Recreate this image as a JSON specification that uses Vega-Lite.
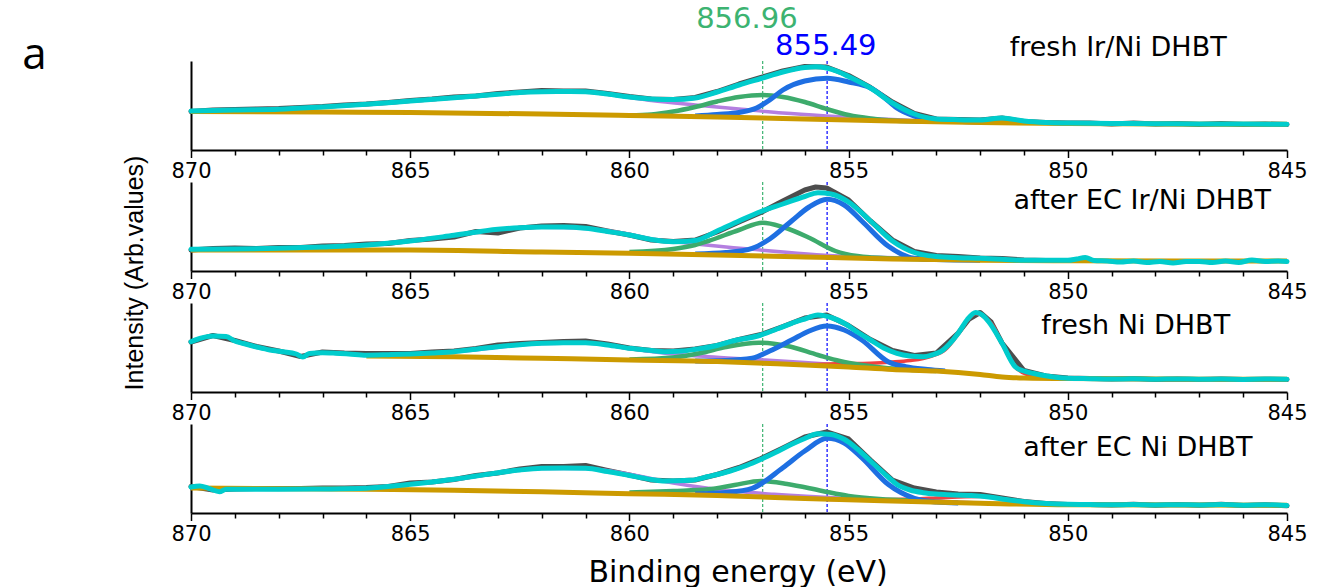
{
"$schema": "https://vega.github.io/schema/vega-lite/v6.json",
"background": "white",
"padding": {"left": 22, "top": 4, "right": 5, "bottom": 5},
"data": {"values": [
{"p":1,"s":"r","x":870,"y":38.5},{"p":1,"s":"r","x":869.5,"y":40},{"p":1,"s":"r","x":869,"y":40.5},{"p":1,"s":"r","x":868.5,"y":41},{"p":1,"s":"r","x":868,"y":41.5},{"p":1,"s":"r","x":867.5,"y":42.5},{"p":1,"s":"r","x":867,"y":43.5},{"p":1,"s":"r","x":866.5,"y":45},{"p":1,"s":"r","x":866,"y":46},{"p":1,"s":"r","x":865.5,"y":47.5},{"p":1,"s":"r","x":865,"y":49.5},{"p":1,"s":"r","x":864.5,"y":51},{"p":1,"s":"r","x":864,"y":53},{"p":1,"s":"r","x":863.5,"y":54},{"p":1,"s":"r","x":863,"y":56.5},{"p":1,"s":"r","x":862.5,"y":58},{"p":1,"s":"r","x":862,"y":59.5},{"p":1,"s":"r","x":861.5,"y":59},{"p":1,"s":"r","x":861,"y":59},{"p":1,"s":"r","x":860.5,"y":56.5},{"p":1,"s":"r","x":860,"y":53.5},{"p":1,"s":"r","x":859.5,"y":51},{"p":1,"s":"r","x":859,"y":50.5},{"p":1,"s":"r","x":858.5,"y":52.5},{"p":1,"s":"r","x":858,"y":58.5},{"p":1,"s":"r","x":857.5,"y":66},{"p":1,"s":"r","x":857,"y":72.5},{"p":1,"s":"r","x":856.5,"y":79},{"p":1,"s":"r","x":856,"y":83.5},{"p":1,"s":"r","x":855.5,"y":83},{"p":1,"s":"r","x":855,"y":74.5},{"p":1,"s":"r","x":854.5,"y":62.5},{"p":1,"s":"r","x":854,"y":48},{"p":1,"s":"r","x":853.5,"y":36.5},{"p":1,"s":"r","x":853,"y":31},{"p":1,"s":"r","x":852.5,"y":30.5},{"p":1,"s":"r","x":852,"y":30},{"p":1,"s":"r","x":851.5,"y":32},{"p":1,"s":"r","x":851,"y":28.5},{"p":1,"s":"r","x":850.5,"y":27.5},{"p":1,"s":"r","x":850,"y":27},{"p":1,"s":"r","x":849.5,"y":27},{"p":1,"s":"r","x":849,"y":26},{"p":1,"s":"r","x":848.5,"y":27},{"p":1,"s":"r","x":848,"y":26},{"p":1,"s":"r","x":847.5,"y":26.5},{"p":1,"s":"r","x":847,"y":25.5},{"p":1,"s":"r","x":846.5,"y":26.5},{"p":1,"s":"r","x":846,"y":25.5},{"p":1,"s":"r","x":845.5,"y":26},{"p":1,"s":"r","x":845,"y":25.5},
{"p":1,"s":"c","x":870,"y":39},{"p":1,"s":"c","x":869,"y":40},{"p":1,"s":"c","x":868,"y":40.7},{"p":1,"s":"c","x":867,"y":43},{"p":1,"s":"c","x":866,"y":45.7},{"p":1,"s":"c","x":865,"y":49},{"p":1,"s":"c","x":864,"y":52.3},{"p":1,"s":"c","x":863,"y":55.7},{"p":1,"s":"c","x":862.5,"y":57.5},{"p":1,"s":"c","x":862,"y":58.3},{"p":1,"s":"c","x":861.5,"y":58.5},{"p":1,"s":"c","x":861,"y":58.3},{"p":1,"s":"c","x":860.5,"y":56},{"p":1,"s":"c","x":860,"y":53},{"p":1,"s":"c","x":859.5,"y":51},{"p":1,"s":"c","x":859,"y":50.5},{"p":1,"s":"c","x":858.5,"y":52},{"p":1,"s":"c","x":858,"y":58},{"p":1,"s":"c","x":857.5,"y":65},{"p":1,"s":"c","x":857,"y":71.5},{"p":1,"s":"c","x":856.5,"y":78},{"p":1,"s":"c","x":856,"y":82.5},{"p":1,"s":"c","x":855.75,"y":83.3},{"p":1,"s":"c","x":855.5,"y":82},{"p":1,"s":"c","x":855.25,"y":78.5},{"p":1,"s":"c","x":855,"y":73.5},{"p":1,"s":"c","x":854.5,"y":62},{"p":1,"s":"c","x":854,"y":47},{"p":1,"s":"c","x":853.5,"y":36},{"p":1,"s":"c","x":853,"y":31},{"p":1,"s":"c","x":852.5,"y":30.3},{"p":1,"s":"c","x":852,"y":30},{"p":1,"s":"c","x":851.5,"y":32},{"p":1,"s":"c","x":851,"y":29},{"p":1,"s":"c","x":850.5,"y":27.5},{"p":1,"s":"c","x":850,"y":27},{"p":1,"s":"c","x":849,"y":26.5},{"p":1,"s":"c","x":848,"y":26.3},{"p":1,"s":"c","x":847,"y":26},{"p":1,"s":"c","x":846,"y":26},{"p":1,"s":"c","x":845,"y":25.7},
{"p":1,"s":"b","x":870,"y":38.5},{"p":1,"s":"b","x":867,"y":38},{"p":1,"s":"b","x":865,"y":37.5},{"p":1,"s":"b","x":862,"y":36},{"p":1,"s":"b","x":860,"y":34.5},{"p":1,"s":"b","x":858,"y":33},{"p":1,"s":"b","x":856,"y":31},{"p":1,"s":"b","x":854,"y":29},{"p":1,"s":"b","x":852,"y":27.5},{"p":1,"s":"b","x":850,"y":26.5},{"p":1,"s":"b","x":845,"y":25.7},
{"p":1,"s":"u","x":866,"y":45.5},{"p":1,"s":"u","x":864,"y":52},{"p":1,"s":"u","x":862,"y":58},{"p":1,"s":"u","x":861,"y":58},{"p":1,"s":"u","x":860,"y":52.5},{"p":1,"s":"u","x":859.5,"y":49.5},{"p":1,"s":"u","x":858.5,"y":45},{"p":1,"s":"u","x":857.5,"y":41},{"p":1,"s":"u","x":856.5,"y":37},{"p":1,"s":"u","x":855.5,"y":34},{"p":1,"s":"u","x":854.5,"y":31.5},{"p":1,"s":"u","x":853.5,"y":29.5},{"p":1,"s":"u","x":852,"y":28},{"p":1,"s":"u","x":850,"y":26.7},
{"p":1,"s":"g","x":860,"y":34.5},{"p":1,"s":"g","x":859.5,"y":35.5},{"p":1,"s":"g","x":859,"y":38.5},{"p":1,"s":"g","x":858.5,"y":43},{"p":1,"s":"g","x":858,"y":48.5},{"p":1,"s":"g","x":857.5,"y":53},{"p":1,"s":"g","x":856.96,"y":55},{"p":1,"s":"g","x":856.5,"y":53},{"p":1,"s":"g","x":856,"y":48},{"p":1,"s":"g","x":855.5,"y":41},{"p":1,"s":"g","x":855,"y":35},{"p":1,"s":"g","x":854.5,"y":31.5},{"p":1,"s":"g","x":854,"y":29.5},{"p":1,"s":"g","x":853,"y":28.3},
{"p":1,"s":"l","x":858.5,"y":34},{"p":1,"s":"l","x":858,"y":35.5},{"p":1,"s":"l","x":857.5,"y":37.5},{"p":1,"s":"l","x":857.1,"y":42},{"p":1,"s":"l","x":856.8,"y":50},{"p":1,"s":"l","x":856.5,"y":60},{"p":1,"s":"l","x":856,"y":69},{"p":1,"s":"l","x":855.49,"y":71.7},{"p":1,"s":"l","x":855,"y":68},{"p":1,"s":"l","x":854.5,"y":62},{"p":1,"s":"l","x":854.2,"y":53},{"p":1,"s":"l","x":853.9,"y":42},{"p":1,"s":"l","x":853.5,"y":34},{"p":1,"s":"l","x":853,"y":30.5},{"p":1,"s":"l","x":852.5,"y":28.8},{"p":1,"s":"l","x":852,"y":28},
{"p":2,"s":"r","x":870,"y":21},{"p":2,"s":"r","x":869.5,"y":22.5},{"p":2,"s":"r","x":869,"y":23},{"p":2,"s":"r","x":868.5,"y":22.5},{"p":2,"s":"r","x":868,"y":23.5},{"p":2,"s":"r","x":867.5,"y":23.5},{"p":2,"s":"r","x":867,"y":25},{"p":2,"s":"r","x":866.5,"y":25.5},{"p":2,"s":"r","x":866,"y":27},{"p":2,"s":"r","x":865.5,"y":27.5},{"p":2,"s":"r","x":865,"y":30.5},{"p":2,"s":"r","x":864.5,"y":32},{"p":2,"s":"r","x":864,"y":34},{"p":2,"s":"r","x":863.5,"y":39.5},{"p":2,"s":"r","x":863,"y":38},{"p":2,"s":"r","x":862.5,"y":43},{"p":2,"s":"r","x":862,"y":45},{"p":2,"s":"r","x":861.5,"y":45.5},{"p":2,"s":"r","x":861,"y":44.5},{"p":2,"s":"r","x":860.5,"y":40},{"p":2,"s":"r","x":860,"y":36},{"p":2,"s":"r","x":859.5,"y":31},{"p":2,"s":"r","x":859,"y":29.5},{"p":2,"s":"r","x":858.5,"y":31},{"p":2,"s":"r","x":858,"y":39},{"p":2,"s":"r","x":857.5,"y":49},{"p":2,"s":"r","x":857,"y":58.5},{"p":2,"s":"r","x":856.5,"y":70},{"p":2,"s":"r","x":856,"y":81},{"p":2,"s":"r","x":855.75,"y":84},{"p":2,"s":"r","x":855.5,"y":83},{"p":2,"s":"r","x":855,"y":71},{"p":2,"s":"r","x":854.5,"y":50},{"p":2,"s":"r","x":854,"y":31},{"p":2,"s":"r","x":853.5,"y":19.5},{"p":2,"s":"r","x":853,"y":15.5},{"p":2,"s":"r","x":852.5,"y":14.5},{"p":2,"s":"r","x":852,"y":13},{"p":2,"s":"r","x":851.5,"y":12.5},{"p":2,"s":"r","x":851,"y":11},{"p":2,"s":"r","x":850.5,"y":10.5},{"p":2,"s":"r","x":850,"y":10.5},
{"p":2,"s":"c","x":870,"y":21.7},{"p":2,"s":"c","x":869,"y":22},{"p":2,"s":"c","x":868,"y":22.7},{"p":2,"s":"c","x":867,"y":24},{"p":2,"s":"c","x":866,"y":26},{"p":2,"s":"c","x":865,"y":30},{"p":2,"s":"c","x":864,"y":35.7},{"p":2,"s":"c","x":863,"y":41.7},{"p":2,"s":"c","x":862.5,"y":43.3},{"p":2,"s":"c","x":862,"y":44},{"p":2,"s":"c","x":861.5,"y":44},{"p":2,"s":"c","x":861,"y":42.7},{"p":2,"s":"c","x":860.5,"y":39.5},{"p":2,"s":"c","x":860,"y":36},{"p":2,"s":"c","x":859.5,"y":31.5},{"p":2,"s":"c","x":859,"y":29.3},{"p":2,"s":"c","x":858.5,"y":30.5},{"p":2,"s":"c","x":858,"y":40},{"p":2,"s":"c","x":857.5,"y":50},{"p":2,"s":"c","x":857,"y":59.5},{"p":2,"s":"c","x":856.5,"y":67},{"p":2,"s":"c","x":856,"y":74.5},{"p":2,"s":"c","x":855.7,"y":78.3},{"p":2,"s":"c","x":855.4,"y":77},{"p":2,"s":"c","x":855,"y":69},{"p":2,"s":"c","x":854.5,"y":50},{"p":2,"s":"c","x":854,"y":30},{"p":2,"s":"c","x":853.5,"y":18.5},{"p":2,"s":"c","x":853,"y":14.5},{"p":2,"s":"c","x":852.5,"y":13.3},{"p":2,"s":"c","x":852,"y":12.7},{"p":2,"s":"c","x":851.5,"y":11.7},{"p":2,"s":"c","x":851,"y":10.7},{"p":2,"s":"c","x":850.5,"y":10.7},{"p":2,"s":"c","x":850,"y":10.7},{"p":2,"s":"c","x":849.8,"y":12},{"p":2,"s":"c","x":849.6,"y":13.5},{"p":2,"s":"c","x":849.4,"y":10.5},{"p":2,"s":"c","x":849.1,"y":10},{"p":2,"s":"c","x":848.8,"y":9},{"p":2,"s":"c","x":848.5,"y":10},{"p":2,"s":"c","x":848.2,"y":8.5},{"p":2,"s":"c","x":847.9,"y":9.5},{"p":2,"s":"c","x":847.6,"y":8},{"p":2,"s":"c","x":847.3,"y":9.5},{"p":2,"s":"c","x":847,"y":9.5},{"p":2,"s":"c","x":846.7,"y":8.5},{"p":2,"s":"c","x":846.4,"y":10},{"p":2,"s":"c","x":846.1,"y":8.5},{"p":2,"s":"c","x":845.8,"y":11},{"p":2,"s":"c","x":845.5,"y":9.5},{"p":2,"s":"c","x":845.2,"y":10},{"p":2,"s":"c","x":845,"y":9.5},
{"p":2,"s":"b","x":870,"y":21},{"p":2,"s":"b","x":865,"y":21},{"p":2,"s":"b","x":862,"y":19},{"p":2,"s":"b","x":860,"y":17.7},{"p":2,"s":"b","x":858,"y":16},{"p":2,"s":"b","x":856,"y":14},{"p":2,"s":"b","x":854,"y":12},{"p":2,"s":"b","x":852,"y":10.8},{"p":2,"s":"b","x":850,"y":10.2},{"p":2,"s":"b","x":845,"y":10},
{"p":2,"s":"u","x":866,"y":26},{"p":2,"s":"u","x":864,"y":35.5},{"p":2,"s":"u","x":863,"y":41.5},{"p":2,"s":"u","x":862,"y":43.8},{"p":2,"s":"u","x":861,"y":42.5},{"p":2,"s":"u","x":860,"y":36.7},{"p":2,"s":"u","x":859.5,"y":32},{"p":2,"s":"u","x":858.7,"y":28},{"p":2,"s":"u","x":857.2,"y":21.7},{"p":2,"s":"u","x":855.2,"y":15},{"p":2,"s":"u","x":853.1,"y":12.7},{"p":2,"s":"u","x":851,"y":11},{"p":2,"s":"u","x":849,"y":10.2},
{"p":2,"s":"g","x":860,"y":19},{"p":2,"s":"g","x":859,"y":22},{"p":2,"s":"g","x":858.5,"y":26},{"p":2,"s":"g","x":858.2,"y":30},{"p":2,"s":"g","x":857.5,"y":41},{"p":2,"s":"g","x":856.96,"y":48.3},{"p":2,"s":"g","x":856.5,"y":44},{"p":2,"s":"g","x":855.9,"y":33.3},{"p":2,"s":"g","x":855.3,"y":20},{"p":2,"s":"g","x":854.8,"y":15},{"p":2,"s":"g","x":854,"y":12.5},{"p":2,"s":"g","x":853,"y":11.5},
{"p":2,"s":"l","x":858.5,"y":17},{"p":2,"s":"l","x":857.8,"y":18.5},{"p":2,"s":"l","x":857.2,"y":22.7},{"p":2,"s":"l","x":856.8,"y":32},{"p":2,"s":"l","x":856.3,"y":50},{"p":2,"s":"l","x":855.9,"y":64},{"p":2,"s":"l","x":855.49,"y":71.7},{"p":2,"s":"l","x":855.1,"y":66},{"p":2,"s":"l","x":854.7,"y":50},{"p":2,"s":"l","x":854.1,"y":25},{"p":2,"s":"l","x":853.5,"y":12.7},{"p":2,"s":"l","x":853,"y":11.5},{"p":2,"s":"l","x":852,"y":10.8},
{"p":3,"s":"r","x":870,"y":50},{"p":3,"s":"r","x":869.5,"y":56.5},{"p":3,"s":"r","x":869,"y":51.5},{"p":3,"s":"r","x":868.5,"y":45.5},{"p":3,"s":"r","x":868,"y":41},{"p":3,"s":"r","x":867.5,"y":35.5},{"p":3,"s":"r","x":867,"y":40},{"p":3,"s":"r","x":866.5,"y":39},{"p":3,"s":"r","x":866,"y":38.5},{"p":3,"s":"r","x":865.5,"y":38.5},{"p":3,"s":"r","x":865,"y":38.5},{"p":3,"s":"r","x":864.5,"y":40},{"p":3,"s":"r","x":864,"y":41},{"p":3,"s":"r","x":863.5,"y":43.5},{"p":3,"s":"r","x":863,"y":47},{"p":3,"s":"r","x":862.5,"y":48.5},{"p":3,"s":"r","x":862,"y":49.5},{"p":3,"s":"r","x":861.5,"y":50.5},{"p":3,"s":"r","x":861,"y":51},{"p":3,"s":"r","x":860.5,"y":48},{"p":3,"s":"r","x":860,"y":44},{"p":3,"s":"r","x":859.5,"y":41.5},{"p":3,"s":"r","x":859,"y":41},{"p":3,"s":"r","x":858.5,"y":43},{"p":3,"s":"r","x":858,"y":46.5},{"p":3,"s":"r","x":857.5,"y":52.5},{"p":3,"s":"r","x":857,"y":57.5},{"p":3,"s":"r","x":856.5,"y":65.5},{"p":3,"s":"r","x":856,"y":74},{"p":3,"s":"r","x":855.5,"y":77},{"p":3,"s":"r","x":855,"y":66.5},{"p":3,"s":"r","x":854.5,"y":52.5},{"p":3,"s":"r","x":854,"y":41.5},{"p":3,"s":"r","x":853.5,"y":36.5},{"p":3,"s":"r","x":853,"y":39},{"p":3,"s":"r","x":852.5,"y":59},{"p":3,"s":"r","x":852.25,"y":73},{"p":3,"s":"r","x":852,"y":79.5},{"p":3,"s":"r","x":851.75,"y":70},{"p":3,"s":"r","x":851.5,"y":49},{"p":3,"s":"r","x":851,"y":21.5},{"p":3,"s":"r","x":850.5,"y":16},{"p":3,"s":"r","x":850,"y":14},{"p":3,"s":"r","x":849.5,"y":13.5},{"p":3,"s":"r","x":849,"y":13},{"p":3,"s":"r","x":848.5,"y":13.5},{"p":3,"s":"r","x":848,"y":12.5},{"p":3,"s":"r","x":847.5,"y":13},{"p":3,"s":"r","x":847,"y":12.5},{"p":3,"s":"r","x":846.5,"y":13},{"p":3,"s":"r","x":846,"y":12.5},{"p":3,"s":"r","x":845.5,"y":12.8},{"p":3,"s":"r","x":845,"y":12.5},
{"p":3,"s":"c","x":870,"y":50.3},{"p":3,"s":"c","x":869.8,"y":53.5},{"p":3,"s":"c","x":869.5,"y":56},{"p":3,"s":"c","x":869.2,"y":55.5},{"p":3,"s":"c","x":869,"y":51},{"p":3,"s":"c","x":868.8,"y":48.5},{"p":3,"s":"c","x":868.5,"y":45},{"p":3,"s":"c","x":868.2,"y":42},{"p":3,"s":"c","x":867.9,"y":40.3},{"p":3,"s":"c","x":867.6,"y":38},{"p":3,"s":"c","x":867.45,"y":35},{"p":3,"s":"c","x":867.3,"y":38.5},{"p":3,"s":"c","x":867,"y":39.3},{"p":3,"s":"c","x":866.7,"y":38.8},{"p":3,"s":"c","x":866.4,"y":38},{"p":3,"s":"c","x":866,"y":36.8},{"p":3,"s":"c","x":865.5,"y":37.3},{"p":3,"s":"c","x":865,"y":38},{"p":3,"s":"c","x":864.5,"y":39},{"p":3,"s":"c","x":864,"y":40.3},{"p":3,"s":"c","x":863.5,"y":42.8},{"p":3,"s":"c","x":863,"y":45.3},{"p":3,"s":"c","x":862.5,"y":47.3},{"p":3,"s":"c","x":862,"y":48.7},{"p":3,"s":"c","x":861.5,"y":49.3},{"p":3,"s":"c","x":861,"y":49.3},{"p":3,"s":"c","x":860.5,"y":47},{"p":3,"s":"c","x":860,"y":43.7},{"p":3,"s":"c","x":859.5,"y":41.5},{"p":3,"s":"c","x":859.2,"y":40.3},{"p":3,"s":"c","x":858.8,"y":41},{"p":3,"s":"c","x":858.5,"y":42.7},{"p":3,"s":"c","x":858,"y":46.5},{"p":3,"s":"c","x":857.7,"y":50.3},{"p":3,"s":"c","x":857,"y":57},{"p":3,"s":"c","x":856.6,"y":63.5},{"p":3,"s":"c","x":856.3,"y":68.7},{"p":3,"s":"c","x":856,"y":73},{"p":3,"s":"c","x":855.7,"y":77},{"p":3,"s":"c","x":855.4,"y":74.5},{"p":3,"s":"c","x":855.1,"y":68.7},{"p":3,"s":"c","x":854.8,"y":60},{"p":3,"s":"c","x":854.5,"y":52},{"p":3,"s":"c","x":854.2,"y":44},{"p":3,"s":"c","x":853.9,"y":38.7},{"p":3,"s":"c","x":853.6,"y":36},{"p":3,"s":"c","x":853.3,"y":35.3},{"p":3,"s":"c","x":853.1,"y":37},{"p":3,"s":"c","x":852.9,"y":40.3},{"p":3,"s":"c","x":852.7,"y":48},{"p":3,"s":"c","x":852.5,"y":58.7},{"p":3,"s":"c","x":852.3,"y":72},{"p":3,"s":"c","x":852.1,"y":79.5},{"p":3,"s":"c","x":851.95,"y":77},{"p":3,"s":"c","x":851.8,"y":70},{"p":3,"s":"c","x":851.5,"y":48.7},{"p":3,"s":"c","x":851.2,"y":25.3},{"p":3,"s":"c","x":851,"y":21},{"p":3,"s":"c","x":850.8,"y":18.7},{"p":3,"s":"c","x":850.4,"y":15.5},{"p":3,"s":"c","x":850,"y":13.7},{"p":3,"s":"c","x":849.5,"y":13.3},{"p":3,"s":"c","x":849,"y":13},{"p":3,"s":"c","x":848.5,"y":13.2},{"p":3,"s":"c","x":848,"y":12.8},{"p":3,"s":"c","x":847.5,"y":13},{"p":3,"s":"c","x":847,"y":12.8},{"p":3,"s":"c","x":846.5,"y":12.9},{"p":3,"s":"c","x":846,"y":12.6},{"p":3,"s":"c","x":845.5,"y":12.9},{"p":3,"s":"c","x":845,"y":12.7},
{"p":3,"s":"b","x":866,"y":36},{"p":3,"s":"b","x":864,"y":35.3},{"p":3,"s":"b","x":862,"y":33.7},{"p":3,"s":"b","x":860,"y":32},{"p":3,"s":"b","x":858,"y":30.5},{"p":3,"s":"b","x":856.5,"y":28},{"p":3,"s":"b","x":855,"y":25},{"p":3,"s":"b","x":854,"y":22.5},{"p":3,"s":"b","x":853,"y":21},{"p":3,"s":"b","x":852.5,"y":19.5},{"p":3,"s":"b","x":852,"y":17.5},{"p":3,"s":"b","x":851.5,"y":15},{"p":3,"s":"b","x":851,"y":14},{"p":3,"s":"b","x":850,"y":13.4},{"p":3,"s":"b","x":845,"y":12.7},
{"p":3,"s":"u","x":866,"y":36.3},{"p":3,"s":"u","x":864,"y":40},{"p":3,"s":"u","x":862,"y":48.5},{"p":3,"s":"u","x":861,"y":49},{"p":3,"s":"u","x":860,"y":43.5},{"p":3,"s":"u","x":859,"y":38},{"p":3,"s":"u","x":858.2,"y":35.3},{"p":3,"s":"u","x":857.2,"y":32.7},{"p":3,"s":"u","x":856,"y":29.5},{"p":3,"s":"u","x":855,"y":26.5},{"p":3,"s":"u","x":854,"y":23},
{"p":3,"s":"e","x":856,"y":27},{"p":3,"s":"e","x":855.3,"y":28.2},{"p":3,"s":"e","x":854.5,"y":28.8},{"p":3,"s":"e","x":854,"y":30},{"p":3,"s":"e","x":853.6,"y":31.5},{"p":3,"s":"e","x":853.3,"y":33.5},{"p":3,"s":"e","x":853.1,"y":36},{"p":3,"s":"e","x":852.8,"y":42},{"p":3,"s":"e","x":852.5,"y":58},{"p":3,"s":"e","x":852.3,"y":71},{"p":3,"s":"e","x":852.1,"y":78.5},{"p":3,"s":"e","x":851.9,"y":75},{"p":3,"s":"e","x":851.7,"y":66},{"p":3,"s":"e","x":851.5,"y":48},{"p":3,"s":"e","x":851.2,"y":25},{"p":3,"s":"e","x":850.9,"y":17},{"p":3,"s":"e","x":850.5,"y":14.5},
{"p":3,"s":"g","x":860,"y":32.5},{"p":3,"s":"g","x":859,"y":34.5},{"p":3,"s":"g","x":858.4,"y":38.7},{"p":3,"s":"g","x":857.8,"y":45},{"p":3,"s":"g","x":857.05,"y":49.3},{"p":3,"s":"g","x":856.4,"y":46},{"p":3,"s":"g","x":855.7,"y":37},{"p":3,"s":"g","x":855.2,"y":31},{"p":3,"s":"g","x":854.7,"y":27},{"p":3,"s":"g","x":854.1,"y":23.7},{"p":3,"s":"g","x":853.5,"y":22},{"p":3,"s":"g","x":853,"y":21},
{"p":3,"s":"l","x":858.5,"y":31},{"p":3,"s":"l","x":857.8,"y":31.5},{"p":3,"s":"l","x":857.2,"y":33.7},{"p":3,"s":"l","x":856.8,"y":41},{"p":3,"s":"l","x":856.3,"y":52},{"p":3,"s":"l","x":855.9,"y":61},{"p":3,"s":"l","x":855.5,"y":66},{"p":3,"s":"l","x":855.1,"y":62},{"p":3,"s":"l","x":854.7,"y":52},{"p":3,"s":"l","x":854.1,"y":30.3},{"p":3,"s":"l","x":853.7,"y":25.3},{"p":3,"s":"l","x":853.2,"y":22.5},{"p":3,"s":"l","x":852.8,"y":21},
{"p":4,"s":"r","x":870,"y":26.5},{"p":4,"s":"r","x":869.5,"y":23},{"p":4,"s":"r","x":869,"y":24},{"p":4,"s":"r","x":868.5,"y":24.5},{"p":4,"s":"r","x":868,"y":24.5},{"p":4,"s":"r","x":867.5,"y":24.5},{"p":4,"s":"r","x":867,"y":25},{"p":4,"s":"r","x":866.5,"y":25},{"p":4,"s":"r","x":866,"y":25.5},{"p":4,"s":"r","x":865.5,"y":26.5},{"p":4,"s":"r","x":865,"y":30},{"p":4,"s":"r","x":864.5,"y":31},{"p":4,"s":"r","x":864,"y":33.5},{"p":4,"s":"r","x":863.5,"y":37.5},{"p":4,"s":"r","x":863,"y":40},{"p":4,"s":"r","x":862.5,"y":44},{"p":4,"s":"r","x":862,"y":46.5},{"p":4,"s":"r","x":861.5,"y":46.5},{"p":4,"s":"r","x":861,"y":47.5},{"p":4,"s":"r","x":860.5,"y":42.5},{"p":4,"s":"r","x":860,"y":38},{"p":4,"s":"r","x":859.5,"y":33},{"p":4,"s":"r","x":859,"y":32},{"p":4,"s":"r","x":858.5,"y":33},{"p":4,"s":"r","x":858,"y":38.5},{"p":4,"s":"r","x":857.5,"y":45.5},{"p":4,"s":"r","x":857,"y":54.5},{"p":4,"s":"r","x":856.5,"y":65},{"p":4,"s":"r","x":856,"y":76},{"p":4,"s":"r","x":855.5,"y":81},{"p":4,"s":"r","x":855,"y":74},{"p":4,"s":"r","x":854.5,"y":53},{"p":4,"s":"r","x":854,"y":33},{"p":4,"s":"r","x":853.5,"y":25},{"p":4,"s":"r","x":853,"y":21},{"p":4,"s":"r","x":852.5,"y":19},{"p":4,"s":"r","x":852,"y":18.5},{"p":4,"s":"r","x":851.5,"y":15},{"p":4,"s":"r","x":851,"y":11.5},{"p":4,"s":"r","x":850.5,"y":9.5},{"p":4,"s":"r","x":850,"y":8.5},{"p":4,"s":"r","x":849.5,"y":8.5},{"p":4,"s":"r","x":849,"y":8},{"p":4,"s":"r","x":848.5,"y":8.8},{"p":4,"s":"r","x":848,"y":7.8},{"p":4,"s":"r","x":847.5,"y":8.5},{"p":4,"s":"r","x":847,"y":7.8},{"p":4,"s":"r","x":846.5,"y":8.8},{"p":4,"s":"r","x":846,"y":7.5},{"p":4,"s":"r","x":845.5,"y":8.3},{"p":4,"s":"r","x":845,"y":7.2},
{"p":4,"s":"c","x":870,"y":26},{"p":4,"s":"c","x":869.8,"y":27},{"p":4,"s":"c","x":869.6,"y":24.7},{"p":4,"s":"c","x":869.35,"y":21.3},{"p":4,"s":"c","x":869.2,"y":23.7},{"p":4,"s":"c","x":869,"y":23.8},{"p":4,"s":"c","x":868,"y":23.7},{"p":4,"s":"c","x":867,"y":24},{"p":4,"s":"c","x":866,"y":24.7},{"p":4,"s":"c","x":865.5,"y":26.5},{"p":4,"s":"c","x":865,"y":28.7},{"p":4,"s":"c","x":864.5,"y":31},{"p":4,"s":"c","x":864,"y":33.7},{"p":4,"s":"c","x":863.5,"y":37},{"p":4,"s":"c","x":863,"y":40.3},{"p":4,"s":"c","x":862.5,"y":43},{"p":4,"s":"c","x":862,"y":44.7},{"p":4,"s":"c","x":861.5,"y":45},{"p":4,"s":"c","x":861,"y":44.7},{"p":4,"s":"c","x":860.5,"y":41.5},{"p":4,"s":"c","x":860,"y":37.5},{"p":4,"s":"c","x":859.5,"y":33.5},{"p":4,"s":"c","x":859.2,"y":32},{"p":4,"s":"c","x":858.6,"y":32.7},{"p":4,"s":"c","x":858.2,"y":36.5},{"p":4,"s":"c","x":857.7,"y":42},{"p":4,"s":"c","x":857.3,"y":48},{"p":4,"s":"c","x":857,"y":53.7},{"p":4,"s":"c","x":856.6,"y":62},{"p":4,"s":"c","x":856.3,"y":68.7},{"p":4,"s":"c","x":856,"y":74.5},{"p":4,"s":"c","x":855.7,"y":79.3},{"p":4,"s":"c","x":855.4,"y":78.5},{"p":4,"s":"c","x":855.1,"y":73.7},{"p":4,"s":"c","x":854.8,"y":64},{"p":4,"s":"c","x":854.5,"y":52},{"p":4,"s":"c","x":854.2,"y":40},{"p":4,"s":"c","x":853.9,"y":28.7},{"p":4,"s":"c","x":853.6,"y":23},{"p":4,"s":"c","x":853.3,"y":20.3},{"p":4,"s":"c","x":852.9,"y":18.8},{"p":4,"s":"c","x":852.6,"y":18},{"p":4,"s":"c","x":852.2,"y":17.5},{"p":4,"s":"c","x":851.8,"y":16},{"p":4,"s":"c","x":851.4,"y":13.5},{"p":4,"s":"c","x":851,"y":11.3},{"p":4,"s":"c","x":850.5,"y":9.5},{"p":4,"s":"c","x":850,"y":8.7},{"p":4,"s":"c","x":849.5,"y":8.5},{"p":4,"s":"c","x":849,"y":8.2},{"p":4,"s":"c","x":848.5,"y":8.5},{"p":4,"s":"c","x":848,"y":8},{"p":4,"s":"c","x":847.5,"y":8.3},{"p":4,"s":"c","x":847,"y":8},{"p":4,"s":"c","x":846.5,"y":8.5},{"p":4,"s":"c","x":846,"y":7.8},{"p":4,"s":"c","x":845.5,"y":8.2},{"p":4,"s":"c","x":845,"y":7.5},
{"p":4,"s":"b","x":870,"y":25},{"p":4,"s":"b","x":866,"y":23.7},{"p":4,"s":"b","x":864,"y":22.7},{"p":4,"s":"b","x":862,"y":21.3},{"p":4,"s":"b","x":860,"y":19.3},{"p":4,"s":"b","x":858,"y":17.5},{"p":4,"s":"b","x":856,"y":14.5},{"p":4,"s":"b","x":854,"y":12},{"p":4,"s":"b","x":852,"y":9.8},{"p":4,"s":"b","x":850,"y":8.2},{"p":4,"s":"b","x":845,"y":7.8},
{"p":4,"s":"u","x":866,"y":24.7},{"p":4,"s":"u","x":864,"y":33.5},{"p":4,"s":"u","x":862,"y":44.5},{"p":4,"s":"u","x":861,"y":44.5},{"p":4,"s":"u","x":860,"y":38.7},{"p":4,"s":"u","x":859,"y":30},{"p":4,"s":"u","x":858.2,"y":24.7},{"p":4,"s":"u","x":856.7,"y":18.7},{"p":4,"s":"u","x":855.1,"y":14.7},{"p":4,"s":"u","x":853.5,"y":12.5},{"p":4,"s":"u","x":852,"y":10},
{"p":4,"s":"e","x":855.5,"y":13.5},{"p":4,"s":"e","x":854.5,"y":13.5},{"p":4,"s":"e","x":853.5,"y":14},{"p":4,"s":"e","x":853,"y":15},{"p":4,"s":"e","x":852.5,"y":16},{"p":4,"s":"e","x":852,"y":16.5},{"p":4,"s":"e","x":851.6,"y":15},{"p":4,"s":"e","x":851.2,"y":12.5},{"p":4,"s":"e","x":850.8,"y":10},{"p":4,"s":"e","x":850.3,"y":8.7},
{"p":4,"s":"g","x":860,"y":20.5},{"p":4,"s":"g","x":859,"y":22},{"p":4,"s":"g","x":858.2,"y":23.7},{"p":4,"s":"g","x":857.6,"y":28},{"p":4,"s":"g","x":857,"y":32},{"p":4,"s":"g","x":856.4,"y":29},{"p":4,"s":"g","x":855.6,"y":22},{"p":4,"s":"g","x":855,"y":17},{"p":4,"s":"g","x":854.3,"y":14},{"p":4,"s":"g","x":853.5,"y":12.5},
{"p":4,"s":"l","x":858.5,"y":19},{"p":4,"s":"l","x":857.8,"y":20.5},{"p":4,"s":"l","x":857.2,"y":24.7},{"p":4,"s":"l","x":856.5,"y":45.3},{"p":4,"s":"l","x":856,"y":62},{"p":4,"s":"l","x":855.49,"y":74.7},{"p":4,"s":"l","x":855.1,"y":70},{"p":4,"s":"l","x":854.7,"y":55.3},{"p":4,"s":"l","x":854.1,"y":28.7},{"p":4,"s":"l","x":853.5,"y":14.7},{"p":4,"s":"l","x":853,"y":11},{"p":4,"s":"l","x":852.5,"y":10},
{"p":1,"s":"v","x":856.96,"k":"856.96"},{"p":1,"s":"v","x":855.49,"k":"855.49"},
{"p":2,"s":"v","x":856.96,"k":"856.96"},{"p":2,"s":"v","x":855.49,"k":"855.49"},
{"p":3,"s":"v","x":856.96,"k":"856.96"},{"p":3,"s":"v","x":855.49,"k":"855.49"},
{"p":4,"s":"v","x":856.96,"k":"856.96"},{"p":4,"s":"v","x":855.49,"k":"855.49"},
{"p":1,"s":"pl","x":857.32,"y":131,"t":"856.96","k":"856.96"},
{"p":1,"s":"pl","x":855.52,"y":104,"t":"855.49","k":"855.49"},
{"p":1,"s":"t","x":848.85,"y":102,"t":"fresh Ir/Ni DHBT"},
{"p":2,"s":"t","x":848.3,"y":70,"t":"after EC Ir/Ni DHBT"},
{"p":3,"s":"t","x":848.45,"y":66,"t":"fresh Ni DHBT"},
{"p":4,"s":"t","x":848.4,"y":65,"t":"after EC Ni DHBT"},
{"p":1,"s":"a","x":873.85,"y":81,"t":"a"},
{"p":2,"s":"yt","x":871.28,"y":-2,"t":"Intensity (Arb.values)"},
{"p":4,"s":"xt","x":857.52,"y":-60,"t":"Binding energy (eV)"}
]},
"facet": {"row": {"field": "p", "type": "ordinal", "header": null}},
"spacing": 32,
"bounds": "flush",
"resolve": {"axis": {"x": "independent"}},
"spec": {
  "width": 1096,
  "height": 89,
  "layer": [
    {"transform": [{"filter": "datum.s==='v'"}],
     "mark": {"type": "rule", "strokeDash": [3, 2], "strokeWidth": 1.2},
     "encoding": {
       "x": {"field": "x", "type": "quantitative",
             "scale": {"domain": [845, 870], "reverse": true, "nice": false, "zero": false},
             "axis": {"title": null, "values": [845,846,847,848,849,850,851,852,853,854,855,856,857,858,859,860,861,862,863,864,865,866,867,868,869,870],
                      "labelExpr": "datum.value % 5 === 0 ? datum.label : ''",
                      "labelFlush": false, "labelOverlap": false, "labelBound": false,
                      "labelFont": "DejaVu Sans", "labelFontSize": 21, "labelColor": "black", "labelPadding": 3,
                      "tickColor": "black", "tickWidth": 1.5,
                      "tickSize": {"condition": {"test": "datum.value % 5 === 0", "value": 7.5}, "value": 5},
                      "domainColor": "black", "domainWidth": 2, "grid": false}},
       "color": {"field": "k", "type": "nominal", "scale": {"domain": ["856.96", "855.49"], "range": ["#3cb371", "#0000ff"]}, "legend": null}
     }},
    {"transform": [{"filter": "datum.s==='r'"}],
     "mark": {"type": "line", "color": "#4d4d4d", "strokeWidth": 5, "strokeJoin": "round", "strokeCap": "round"},
     "encoding": {
       "x": {"field": "x", "type": "quantitative"},
       "y": {"field": "y", "type": "quantitative",
             "scale": {"domain": [0, 89], "nice": false, "zero": false},
             "axis": {"title": null, "labels": false, "ticks": false, "grid": false, "domainColor": "black", "domainWidth": 2}}
     }},
    {"transform": [{"filter": "datum.s==='u'"}],
     "mark": {"type": "line", "color": "#b47fe0", "strokeWidth": 3.5, "interpolate": "monotone"},
     "encoding": {"x": {"field": "x", "type": "quantitative"}, "y": {"field": "y", "type": "quantitative"}}},
    {"transform": [{"filter": "datum.s==='e'"}],
     "mark": {"type": "line", "color": "#f04040", "strokeWidth": 3.5, "interpolate": "monotone"},
     "encoding": {"x": {"field": "x", "type": "quantitative"}, "y": {"field": "y", "type": "quantitative"}}},
    {"transform": [{"filter": "datum.s==='g'"}],
     "mark": {"type": "line", "color": "#3dab6c", "strokeWidth": 4.5, "interpolate": "monotone"},
     "encoding": {"x": {"field": "x", "type": "quantitative"}, "y": {"field": "y", "type": "quantitative"}}},
    {"transform": [{"filter": "datum.s==='l'"}],
     "mark": {"type": "line", "color": "#1e6fe2", "strokeWidth": 5, "interpolate": "monotone"},
     "encoding": {"x": {"field": "x", "type": "quantitative"}, "y": {"field": "y", "type": "quantitative"}}},
    {"transform": [{"filter": "datum.s==='b'"}],
     "mark": {"type": "line", "color": "#cc9a00", "strokeWidth": 5, "interpolate": "monotone"},
     "encoding": {"x": {"field": "x", "type": "quantitative"}, "y": {"field": "y", "type": "quantitative"}}},
    {"transform": [{"filter": "datum.s==='c'"}],
     "mark": {"type": "line", "color": "#00cccc", "strokeWidth": 5, "interpolate": "monotone", "strokeCap": "round"},
     "encoding": {"x": {"field": "x", "type": "quantitative"}, "y": {"field": "y", "type": "quantitative"}}},
    {"transform": [{"filter": "datum.s==='pl'"}],
     "mark": {"type": "text", "font": "DejaVu Sans", "fontSize": 29, "align": "center", "baseline": "middle"},
     "encoding": {"x": {"field": "x", "type": "quantitative"}, "y": {"field": "y", "type": "quantitative"},
                  "text": {"field": "t"},
                  "color": {"field": "k", "type": "nominal", "scale": {"domain": ["856.96", "855.49"], "range": ["#3cb371", "#0000ff"]}, "legend": null}}},
    {"transform": [{"filter": "datum.s==='t'"}],
     "mark": {"type": "text", "font": "DejaVu Sans", "fontSize": 27, "align": "center", "baseline": "middle", "color": "black"},
     "encoding": {"x": {"field": "x", "type": "quantitative"}, "y": {"field": "y", "type": "quantitative"}, "text": {"field": "t"}}},
    {"transform": [{"filter": "datum.s==='a'"}],
     "mark": {"type": "text", "font": "Open Sans", "fontSize": 44, "align": "left", "baseline": "alphabetic", "color": "black"},
     "encoding": {"x": {"field": "x", "type": "quantitative"}, "y": {"field": "y", "type": "quantitative"}, "text": {"field": "t"}}},
    {"transform": [{"filter": "datum.s==='yt'"}],
     "mark": {"type": "text", "font": "'Liberation Sans Narrow', 'Liberation Sans'", "fontSize": 25, "align": "center", "baseline": "middle", "angle": 270, "color": "black"},
     "encoding": {"x": {"field": "x", "type": "quantitative"}, "y": {"field": "y", "type": "quantitative"}, "text": {"field": "t"}}},
    {"transform": [{"filter": "datum.s==='xt'"}],
     "mark": {"type": "text", "font": "DejaVu Sans", "fontSize": 30, "align": "center", "baseline": "middle", "color": "black"},
     "encoding": {"x": {"field": "x", "type": "quantitative"}, "y": {"field": "y", "type": "quantitative"}, "text": {"field": "t"}}}
  ]
},
"config": {"view": {"stroke": null}}
}
